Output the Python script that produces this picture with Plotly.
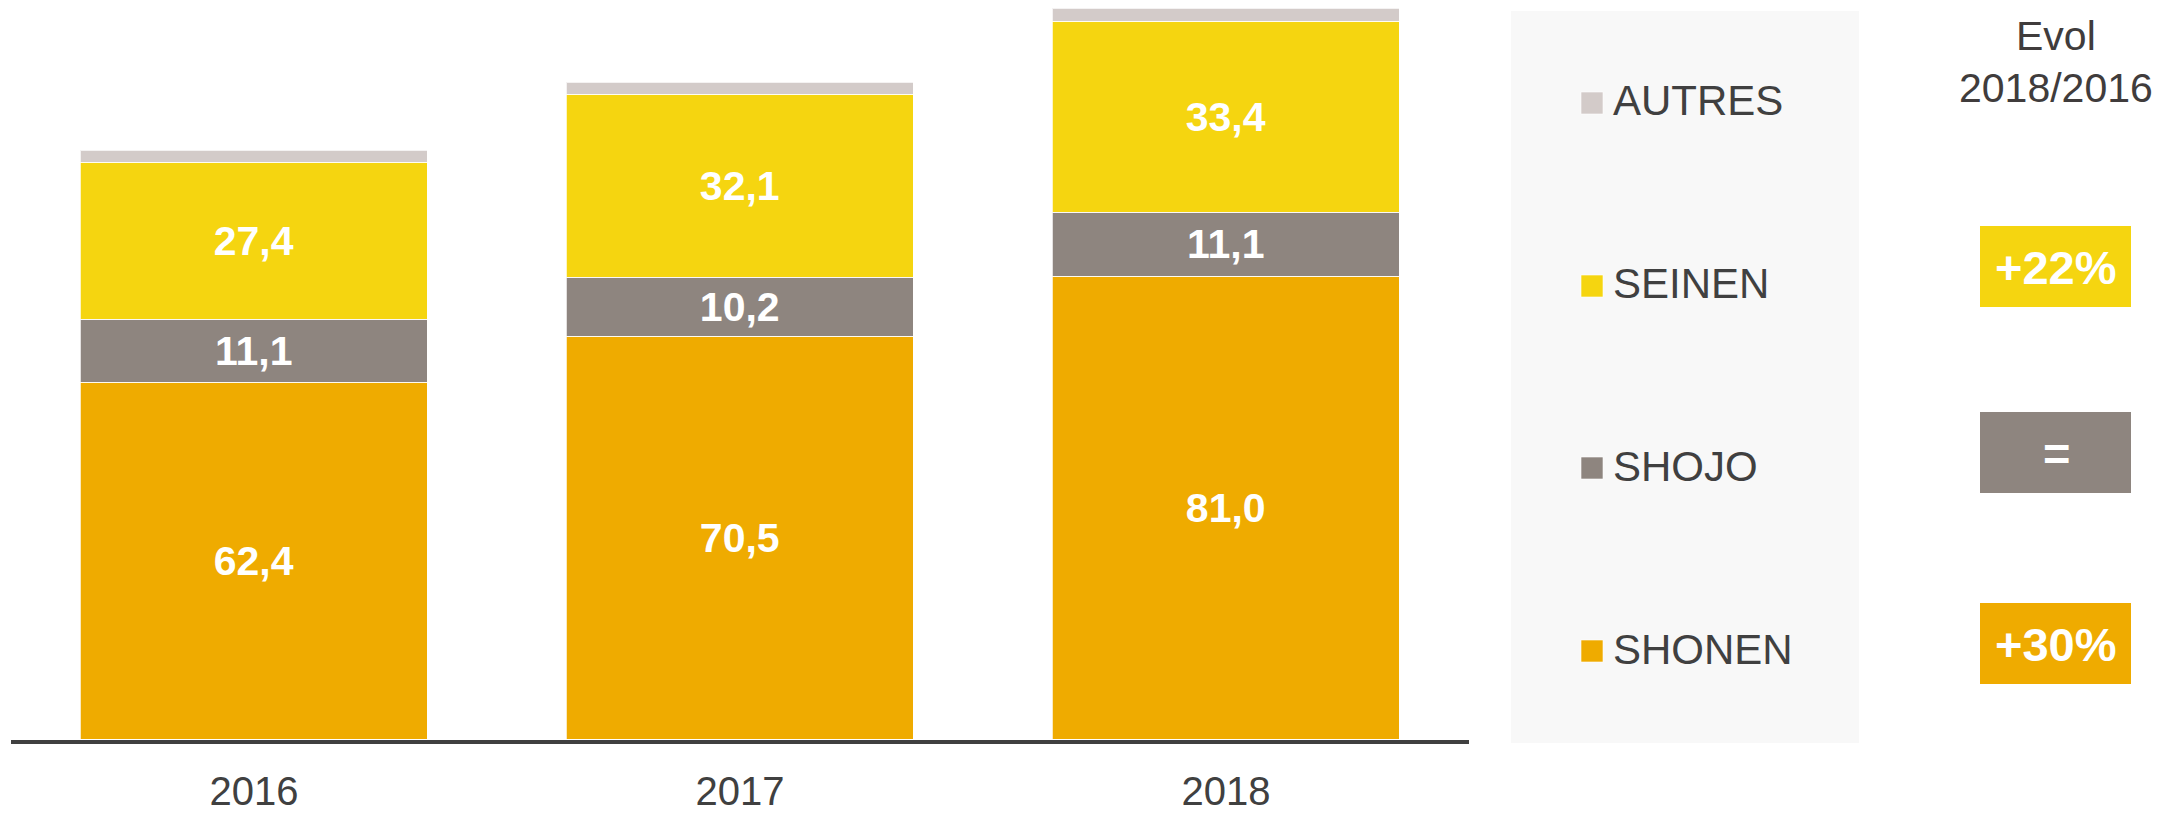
import plotly.graph_objects as go

# ---------------- data ----------------
years = ["2016", "2017", "2018"]
series_names = ["SHONEN", "SHOJO", "SEINEN", "AUTRES"]
shonen = [62.4, 70.5, 81.0]
shojo = [11.1, 10.2, 11.1]
seinen = [27.4, 32.1, 33.4]
autres = [2.1, 2.0, 2.3]
evol_labels = {"SEINEN": "+22%", "SHOJO": "=", "SHONEN": "+30%"}
evol_title = ["Evol", "2018/2016"]

colors = {"SHONEN": "#EFAB00", "SHOJO": "#8E857F", "SEINEN": "#F5D510", "AUTRES": "#D3CBC9"}
values = {"SHONEN": shonen, "SHOJO": shojo, "SEINEN": seinen, "AUTRES": autres}
show_text = {"SHONEN": True, "SHOJO": True, "SEINEN": True, "AUTRES": False}

W, H = 2172, 813
FONT = "Liberation Sans, Arial, sans-serif"
TXT = "#404040"


def px(x):
    return x / W


def py(y):
    return 1 - y / H


pos = list(range(len(years)))

fig = go.Figure()
for name in series_names:
    vals = values[name]
    fig.add_trace(go.Bar(
        x=pos, y=vals, name=name, width=0.714,
        marker=dict(color=colors[name], line=dict(color="rgba(255,255,255,0.75)", width=1.5)),
        text=[f"{v:.1f}".replace(".", ",") for v in vals] if show_text[name] else None,
        textposition="inside" if show_text[name] else "none",
        insidetextanchor="middle", textangle=0, constraintext="none",
        textfont=dict(family=FONT, size=41, color="white", weight="bold"),
        showlegend=False, hoverinfo="skip",
    ))

plot_bottom = 740
units_px = 5.72

fig.update_layout(
    width=W, height=H, autosize=False,
    margin=dict(l=0, r=0, t=0, b=0, pad=0),
    paper_bgcolor="white", plot_bgcolor="white",
    barmode="stack", bargap=0,
    xaxis=dict(domain=[px(11), px(1469)], range=[-0.5, 2.5], automargin=False,
               tickvals=pos, ticktext=years, showgrid=False, zeroline=False,
               showline=True, linecolor="#404040", linewidth=4, ticks="",
               tickfont=dict(family=FONT, size=40, color=TXT), ticklabelstandoff=13,
               fixedrange=True),
    yaxis=dict(domain=[py(plot_bottom), 1], range=[0, plot_bottom / units_px],
               automargin=False,
               showgrid=False, zeroline=False, showticklabels=False, showline=False,
               fixedrange=True),
    font=dict(family=FONT, color=TXT),
)

shapes = []
annotations = []
# legend panel
shapes.append(dict(type="rect", xref="paper", yref="paper", x0=px(1511), x1=px(1859),
                   y0=py(743), y1=py(11), fillcolor="#F8F8F8", line=dict(width=0), layer="below"))

legend_order = ["AUTRES", "SEINEN", "SHOJO", "SHONEN"]
legend_y = [103, 286, 468, 651]
evol_box_y = {"SEINEN": (226, 307), "SHOJO": (412, 493), "SHONEN": (603, 684)}
for name, yc in zip(legend_order, legend_y):
    shapes.append(dict(type="rect", xref="paper", yref="paper", x0=px(1581), x1=px(1603),
                       y0=py(yc + 11), y1=py(yc - 11), fillcolor=colors[name],
                       line=dict(color="rgba(255,255,255,0.6)", width=1)))
    annotations.append(dict(xref="paper", yref="paper", x=px(1611), y=py(yc - 2),
                            xanchor="left", yanchor="middle", showarrow=False, text=name,
                            font=dict(family=FONT, size=42, color=TXT)))
    if name in evol_labels:
        y0, y1 = evol_box_y[name]
        shapes.append(dict(type="rect", xref="paper", yref="paper", x0=px(1980), x1=px(2131),
                           y0=py(y1), y1=py(y0), fillcolor=colors[name], line=dict(width=0)))
        annotations.append(dict(xref="paper", yref="paper", x=px(2056), y=py((y0 + y1) / 2 + 1),
                                xanchor="center", yanchor="middle", showarrow=False,
                                text=evol_labels[name],
                                font=dict(family=FONT, size=47, color="white", weight="bold")))

for line, yc in zip(evol_title, [36, 88]):
    annotations.append(dict(xref="paper", yref="paper", x=px(2056), y=py(yc),
                            xanchor="center", yanchor="middle", showarrow=False, text=line,
                            font=dict(family=FONT, size=41, color="#403C3C")))

fig.update_layout(shapes=shapes, annotations=annotations)

fig.write_html("out.html", config={"displayModeBar": False},
               post_script="document.body.style.margin='0';document.body.style.overflow='hidden';")
